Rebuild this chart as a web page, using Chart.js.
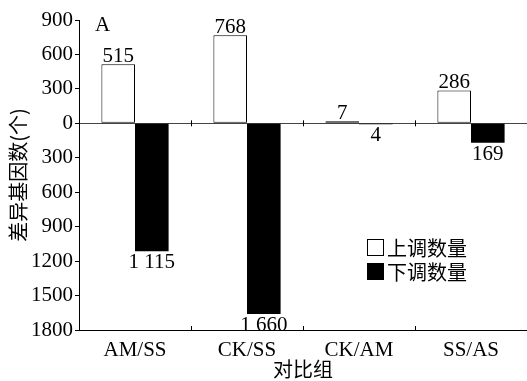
<!DOCTYPE html>
<html>
<head>
<meta charset="utf-8">
<script src="https://cdn.jsdelivr.net/npm/chart.js@4/dist/chart.umd.min.js"></script>
<style>
html,body{margin:0;padding:0;background:#fff;}
#wrap{width:527px;height:381px;position:relative;}
</style>
</head>
<body>
<div id="wrap"><canvas id="c" width="527" height="381"></canvas></div>
<script>
const categories = ['AM/SS', 'CK/SS', 'CK/AM', 'SS/AS'];
const upCounts = [515, 768, 7, 286];
const downCounts = [-1115, -1660, -4, -169];
const seriesNames = ['上调数量', '下调数量'];
const yTitle = '差异基因数(个)';
const xTitle = '对比组';
const panelLabel = 'A';

const serif = "'Liberation Serif', 'DejaVu Serif', serif";
const cjk = "'Noto Sans CJK SC', 'Noto Sans', sans-serif";

function fmt(v) {
  const a = Math.abs(v);
  if (a >= 1000) {
    const s = String(a);
    return s.slice(0, s.length - 3) + ' ' + s.slice(s.length - 3);
  }
  return String(a);
}

const labelsPlugin = {
  id: 'barLabels',
  afterDatasetsDraw(chart) {
    const ctx = chart.ctx;
    ctx.save();
    ctx.font = '21px ' + serif;
    ctx.fillStyle = '#000';
    ctx.textAlign = 'center';
    chart.data.datasets.forEach((ds, di) => {
      const meta = chart.getDatasetMeta(di);
      meta.data.forEach((el, i) => {
        const v = ds.data[i];
        if (v >= 0) {
          ctx.textBaseline = 'alphabetic';
          ctx.fillText(fmt(v), el.x, el.y - 2);
        } else {
          ctx.textBaseline = 'top';
          ctx.fillText(fmt(v), el.x, el.y + 1);
        }
      });
    });
    ctx.restore();
  }
};

const decoPlugin = {
  id: 'deco',
  afterDraw(chart) {
    const ctx = chart.ctx;
    const xs = chart.scales.x, ys = chart.scales.y;
    const area = chart.chartArea;
    const y0 = ys.getPixelForValue(0);
    ctx.save();
    ctx.strokeStyle = '#000';
    ctx.lineWidth = 1;
    for (let i = 1; i < categories.length; i++) {
      const x = Math.round((xs.getPixelForTick(i - 1) + xs.getPixelForTick(i)) / 2) + 0.5;
      ctx.beginPath();
      ctx.moveTo(x, area.bottom);
      ctx.lineTo(x, area.bottom - 4);
      ctx.moveTo(x, y0 - 3);
      ctx.lineTo(x, y0 + 3);
      ctx.stroke();
    }
    ctx.fillStyle = '#000';
    ctx.font = '21px ' + serif;
    ctx.textAlign = 'left';
    ctx.textBaseline = 'alphabetic';
    ctx.fillText(panelLabel, area.left + 16, area.top + 11);
    const lx = area.left + 288, ly = 239;
    chart.data.datasets.forEach((ds, di) => {
      const y = ly + di * 24;
      ctx.fillStyle = ds.backgroundColor;
      ctx.fillRect(lx, y, 17, 17);
      ctx.strokeStyle = '#000';
      ctx.strokeRect(lx + 0.5, y + 0.5, 16, 16);
      ctx.fillStyle = '#000';
      ctx.font = '20px ' + cjk;
      ctx.textBaseline = 'middle';
      ctx.fillText(ds.label, lx + 20, y + 9);
    });
    ctx.restore();
  }
};

new Chart(document.getElementById('c'), {
  type: 'bar',
  data: {
    labels: categories,
    datasets: [
      { label: seriesNames[0], data: upCounts, backgroundColor: '#ffffff', borderColor: '#000', borderWidth: 1, borderSkipped: false, minBarLength: 2 },
      { label: seriesNames[1], data: downCounts, backgroundColor: '#000000', borderColor: '#000', borderWidth: 0, minBarLength: 1 }
    ]
  },
  options: {
    responsive: false,
    animation: false,
    devicePixelRatio: 1,
    categoryPercentage: 0.6,
    barPercentage: 1.0,
    layout: { padding: { top: 20, right: 0, bottom: 0, left: 6 } },
    plugins: { legend: { display: false }, tooltip: { enabled: false } },
    scales: {
      x: {
        grid: { display: false },
        border: { display: true, color: '#000', width: 1 },
        ticks: { color: '#000', font: { family: serif, size: 21 }, padding: 0 },
        title: { display: true, text: xTitle, color: '#000', font: { family: cjk, size: 20 }, padding: { top: 5, bottom: 0 } },
        afterFit(s) { s.height = 51; }
      },
      y: {
        min: -1800, max: 900,
        ticks: { stepSize: 300, color: '#000', font: { family: serif, size: 21 }, padding: 2,
          callback: v => String(Math.abs(v)) },
        grid: { drawOnChartArea: true, color: c => (c.tick && c.tick.value === 0) ? '#444' : 'rgba(0,0,0,0)', tickColor: '#000', tickLength: 4 },
        border: { display: true, color: '#000', width: 1 },
        title: { display: true, text: yTitle, color: '#000', font: { family: cjk, size: 20 }, padding: { top: 0, bottom: 0 } },
        afterFit(s) { s.width = 73; }
      }
    }
  },
  plugins: [labelsPlugin, decoPlugin]
});
</script>
</body>
</html>
